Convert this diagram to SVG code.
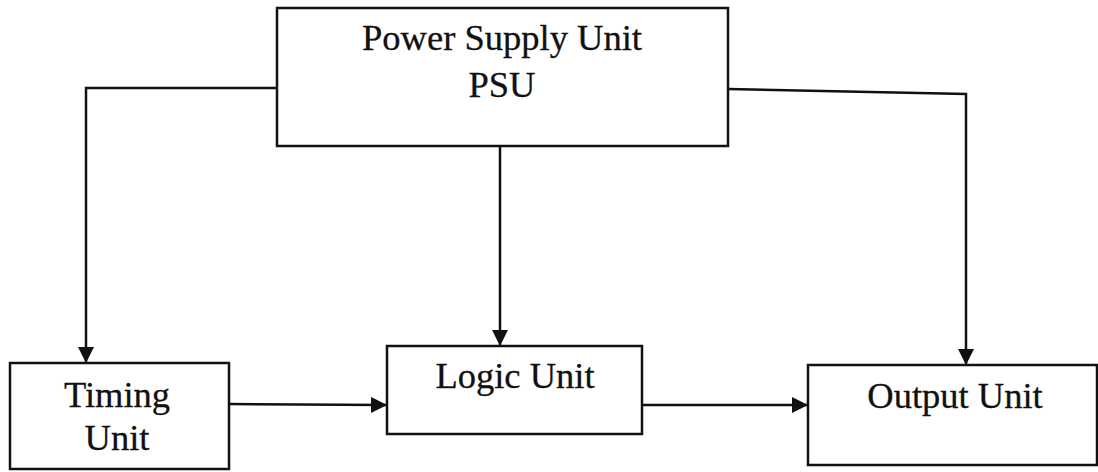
<svg xmlns="http://www.w3.org/2000/svg" width="1098" height="472" viewBox="0 0 1098 472">
<defs>
<style>
.box{fill:#fff;stroke:#111;stroke-width:2.5}
.t{font-family:"Liberation Serif","Times New Roman",serif;font-size:36.5px;fill:#111;stroke:#111;stroke-width:0.3;text-anchor:middle}
.c{fill:none;stroke:#111;stroke-width:2.5}
</style>
<marker id="ah" markerWidth="16" markerHeight="16" refX="15" refY="8" orient="auto" markerUnits="userSpaceOnUse">
<path d="M0,0 L16,8 L0,16 Z" fill="#111"/>
</marker>
</defs>
<rect width="1098" height="472" fill="#fff"/>
<g id="connectors">
<polyline class="c" points="277,88 86,88 86,362" marker-end="url(#ah)"/>
<line class="c" x1="500" y1="146" x2="500" y2="345" marker-end="url(#ah)"/>
<polyline class="c" points="728,89 966,94 966,364" marker-end="url(#ah)"/>
<line class="c" x1="229" y1="404" x2="386" y2="405" marker-end="url(#ah)"/>
<line class="c" x1="642" y1="405" x2="807" y2="405" marker-end="url(#ah)"/>
</g>
<g id="psu">
<rect class="box" x="277" y="8" width="451" height="138"/>
<text class="t" x="502" y="50">Power Supply Unit</text>
<text class="t" x="502" y="97">PSU</text>
</g>
<g id="timing">
<rect class="box" x="10" y="363" width="219" height="106"/>
<text class="t" x="117" y="407">Timing</text>
<text class="t" x="117" y="450">Unit</text>
</g>
<g id="logic">
<rect class="box" x="387" y="346" width="255" height="88"/>
<text class="t" x="515" y="388">Logic Unit</text>
</g>
<g id="output">
<rect class="box" x="808" y="365" width="289" height="100"/>
<text class="t" x="955" y="408">Output Unit</text>
</g>
</svg>
